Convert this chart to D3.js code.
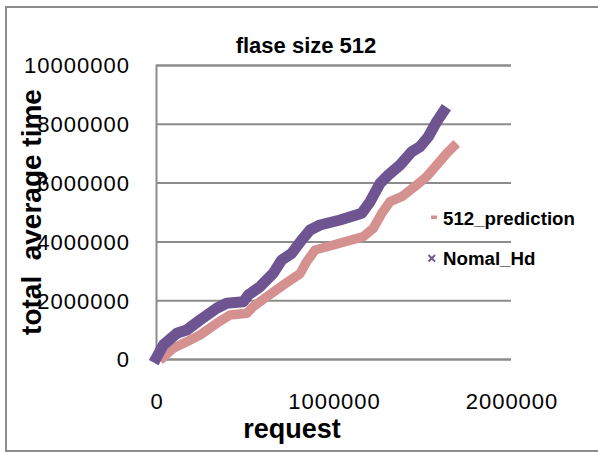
<!DOCTYPE html>
<html>
<head>
<meta charset="utf-8">
<script src="https://cdn.jsdelivr.net/npm/d3@7"></script>
<style>
  html, body { margin: 0; padding: 0; background: #fff; }
  svg { display: block; }
  text { font-family: "Liberation Sans", Arial, sans-serif; fill: #000; }
</style>
</head>
<body>
<svg id="chart" width="598" height="452"></svg>
<script>
// ---- data ----
const title = "flase size 512";
const xTitle = "request";
const yTitle = "total  average time";
const seriesNames = ["512_prediction", "Nomal_Hd"];
const yTicks = [0, 2000000, 4000000, 6000000, 8000000, 10000000];
const xTicks = [0, 1000000, 2000000];

const predX = [41000, 97000, 173000, 248000, 342000, 417000, 511000, 548000, 624000, 717000, 811000, 849000, 896000, 999000, 1168000, 1224000, 1272000, 1318000, 1384000, 1469000, 1525000, 1581000, 1638000, 1675000];
const predY = [58000, 364000, 588000, 816000, 1214000, 1497000, 1554000, 1779000, 2119000, 2517000, 2900000, 3310000, 3708000, 3878000, 4160000, 4446000, 4956000, 5350000, 5520000, 5918000, 6201000, 6597000, 6997000, 7221000];

const hdX = [2000, 41000, 117000, 173000, 248000, 342000, 398000, 492000, 520000, 586000, 661000, 708000, 764500, 821000, 868000, 924000, 1037000, 1159000, 1206000, 1262000, 1309000, 1375000, 1441000, 1487000, 1534000, 1581000, 1619000];
const hdY = [40000, 476000, 874000, 986000, 1327000, 1725000, 1895000, 1949000, 2177000, 2459000, 2920000, 3367000, 3595000, 4048000, 4388000, 4558000, 4728000, 4956000, 5350000, 5976000, 6259000, 6599000, 7051000, 7221000, 7561000, 8071000, 8412000];

// ---- layout ----
const svg = d3.select("#chart");
const plot = { left: 156, right: 511, top: 65, bottom: 359 };
const colors = { pred: "#D4918F", hd: "#6E5591" };
const grid = "#8C8C8C";

const x = d3.scaleLinear().domain([0, 2000000]).range([plot.left, plot.right]);
const y = d3.scaleLinear().domain([0, 10000000]).range([plot.bottom, plot.top]);

// outer frame
svg.append("rect")
  .attr("x", 6).attr("y", 7).attr("width", 600).attr("height", 444)
  .attr("fill", "none").attr("stroke", grid).attr("stroke-width", 2);

// gridlines + y labels via axis
const yAxis = d3.axisLeft(y).tickValues(yTicks).tickSize(-(plot.right - plot.left))
  .tickFormat(d3.format("d")).tickPadding(26);
const gy = svg.append("g").attr("transform", `translate(${plot.left},0)`).call(yAxis);
gy.select(".domain").attr("stroke", grid).attr("stroke-width", 2);
gy.selectAll(".tick line").attr("stroke", grid).attr("stroke-width", 2);
gy.selectAll(".tick text")
  .style("font-family", '"Liberation Sans", Arial, sans-serif')
  .attr("font-size", 22).attr("letter-spacing", 1).attr("fill", "#000")
  .attr("dy", "0.36em");

// x labels via axis (no line)
const xAxis = d3.axisBottom(x).tickValues(xTicks).tickSize(0)
  .tickFormat(d3.format("d")).tickPadding(34);
const gx = svg.append("g").attr("transform", `translate(0,${plot.bottom})`).call(xAxis);
gx.select(".domain").remove();
gx.selectAll(".tick text")
  .style("font-family", '"Liberation Sans", Arial, sans-serif')
  .attr("font-size", 22).attr("letter-spacing", 1).attr("fill", "#000")
  .attr("dx", "0.5px");

// series
const line = d3.line().x(d => x(d[0])).y(d => y(d[1]));
const predData = predX.map((v, i) => [v, predY[i]]);
const hdData = hdX.map((v, i) => [v, hdY[i]]);

svg.append("path").datum(predData).attr("d", line)
  .attr("fill", "none").attr("stroke", colors.pred).attr("stroke-width", 9.5)
  .attr("stroke-linejoin", "round").attr("stroke-linecap", "square");
svg.append("path").datum(hdData).attr("d", line)
  .attr("fill", "none").attr("stroke", colors.hd).attr("stroke-width", 11)
  .attr("stroke-linejoin", "round").attr("stroke-linecap", "square");

// title
svg.append("text").attr("x", 306).attr("y", 53).attr("text-anchor", "middle")
  .attr("font-size", 22).attr("font-weight", "bold").text(title);

// axis titles
svg.append("text").attr("x", 292).attr("y", 438).attr("text-anchor", "middle")
  .attr("font-size", 27).attr("font-weight", "bold").text(xTitle);
svg.append("text")
  .attr("transform", "translate(41,212) rotate(-90)")
  .attr("text-anchor", "middle").style("white-space", "pre")
  .attr("font-size", 28).attr("font-weight", "bold").text(yTitle);

// legend
const lg = svg.append("g");
lg.append("rect").attr("x", 431).attr("y", 215.5).attr("width", 6).attr("height", 3.5)
  .attr("fill", colors.pred);
lg.append("text").attr("x", 443).attr("y", 225).attr("font-size", 18.7)
  .attr("font-weight", "bold").text(seriesNames[0]);
lg.append("path")
  .attr("d", "M428.5,255 L435,261.5 M435,255 L428.5,261.5")
  .attr("stroke", colors.hd).attr("stroke-width", 1.8).attr("fill", "none");
lg.append("text").attr("x", 443).attr("y", 264.5).attr("font-size", 18.7)
  .attr("font-weight", "bold").text(seriesNames[1]);
</script>
</body>
</html>
